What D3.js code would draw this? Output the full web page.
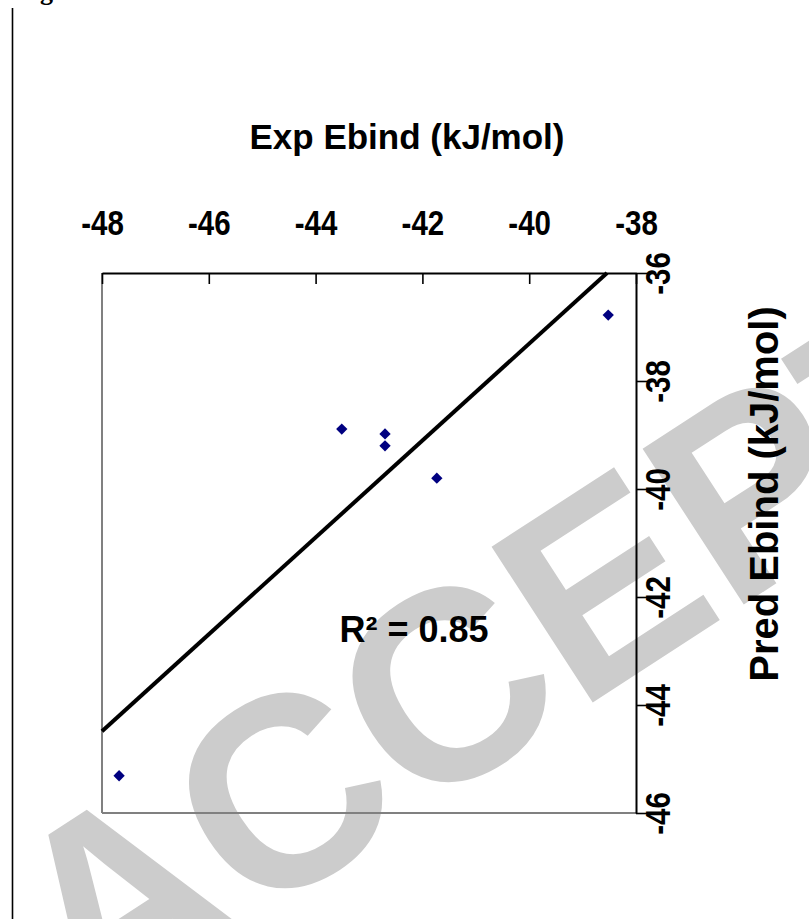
<!DOCTYPE html>
<html>
<head>
<meta charset="utf-8">
<script src="https://cdn.jsdelivr.net/npm/d3@7"></script>
<style>
  html, body { margin: 0; padding: 0; background: #ffffff; }
  svg { display: block; }
</style>
</head>
<body>
<div id="chart"></div>
<script>
// ---- data ----
const expEbind  = [-38.52, -43.51, -42.70, -42.70, -41.73, -47.68];
const predEbind = [-36.78, -38.89, -38.98, -39.20, -39.80, -45.31];
const xTicks = [-48, -46, -44, -42, -40, -38];
const yTicks = [-36, -38, -40, -42, -44, -46];
const xTitle = "Exp Ebind (kJ/mol)";
const yTitle = "Pred Ebind (kJ/mol)";
const r2Label = "R\u00B2 = 0.85";
const watermark = "ACCEPTED MANUSCRIPT";
const figLabel = "Figure 8";

(function () {
const W = 809, H = 919;
const svg = d3.select("#chart").append("svg").attr("width", W).attr("height", H);

// watermark behind everything
svg.append("text")
  .attr("transform", "translate(87,1031) rotate(-33)")
  .attr("font-family", "Liberation Sans, Arial, sans-serif")
  .attr("font-weight", "bold")
  .attr("font-size", 270)
  .attr("fill", "#cccccc")
  .text(watermark);

// page margin line and cropped figure caption
svg.append("line").attr("x1", 12.5).attr("x2", 12.5).attr("y1", 8).attr("y2", H)
  .attr("stroke", "#000").attr("stroke-width", 1.6);
svg.append("text").attr("x", 17).attr("y", 0)
  .attr("font-family", "Liberation Serif, Times New Roman, serif")
  .attr("font-weight", "bold").attr("font-size", 26).attr("fill", "#000")
  .text(figLabel);

// scales
const pL = 102, pR = 636, pT = 273, pB = 813;
const x = d3.scaleLinear().domain([-48, -38]).range([pL, pR]);
const y = d3.scaleLinear().domain([-46, -36]).range([pB, pT]);

// plot frame (left / bottom gray)
svg.append("line").attr("x1", pL).attr("x2", pL).attr("y1", pT).attr("y2", pB)
  .attr("stroke", "#808080").attr("stroke-width", 2);
svg.append("line").attr("x1", pL).attr("x2", pR).attr("y1", pB).attr("y2", pB)
  .attr("stroke", "#808080").attr("stroke-width", 2);

const fmt = d => d3.format("d")(d).replace("\u2212", "-");

// top axis (ticks inward)
const gx = svg.append("g").attr("transform", `translate(0,${pT})`)
  .call(d3.axisTop(x).tickValues(xTicks).tickSize(-11).tickSizeOuter(0).tickPadding(38)
        .tickFormat(fmt));
gx.select(".domain").attr("stroke", "#000").attr("stroke-width", 2);
gx.selectAll(".tick line").attr("stroke", "#000").attr("stroke-width", 1.6);
gx.selectAll(".tick text")
  .attr("font-family", "Liberation Sans, Arial, sans-serif")
  .attr("font-weight", "bold").attr("font-size", 36).attr("fill", "#000")
  .attr("transform", "scale(0.82,1)");

// right axis (ticks outward, rotated labels)
const gy = svg.append("g").attr("transform", `translate(${pR},0)`)
  .call(d3.axisRight(y).tickValues(yTicks).tickSize(12).tickSizeOuter(0)
        .tickFormat(fmt));
gy.select(".domain").attr("stroke", "#000").attr("stroke-width", 2);
gy.selectAll(".tick line").attr("stroke", "#000").attr("stroke-width", 1.6);
gy.selectAll(".tick text")
  .attr("x", 0).attr("y", 0).attr("dy", "0.35em")
  .attr("text-anchor", "middle")
  .attr("font-family", "Liberation Sans, Arial, sans-serif")
  .attr("font-weight", "bold").attr("font-size", 36).attr("fill", "#000")
  .attr("transform", "translate(21,0) rotate(-90) scale(0.82,1)");

// titles
svg.append("text").attr("x", 407).attr("y", 149).attr("text-anchor", "middle")
  .attr("font-family", "Liberation Sans, Arial, sans-serif")
  .attr("font-weight", "bold").attr("font-size", 35).attr("fill", "#000")
  .text(xTitle);
svg.append("text")
  .attr("transform", "translate(764,494) rotate(-90)")
  .attr("text-anchor", "middle").attr("dy", "0.35em")
  .attr("font-family", "Liberation Sans, Arial, sans-serif")
  .attr("font-weight", "bold").attr("font-size", 40).attr("fill", "#000")
  .text(yTitle);

// linear trendline (least squares), clipped to plot area
const n = expEbind.length;
const mx = d3.mean(expEbind), my = d3.mean(predEbind);
let sxy = 0, sxx = 0;
for (let i = 0; i < n; i++) {
  sxy += (expEbind[i] - mx) * (predEbind[i] - my);
  sxx += (expEbind[i] - mx) ** 2;
}
const slope = sxy / sxx, icpt = my - slope * mx;
const xa = x.domain()[0];
const xb = Math.min(x.domain()[1], (y.domain()[1] - icpt) / slope);
svg.append("line")
  .attr("x1", x(xa)).attr("y1", y(slope * xa + icpt))
  .attr("x2", x(xb)).attr("y2", y(slope * xb + icpt))
  .attr("stroke", "#000").attr("stroke-width", 4);

// points
const sym = d3.symbol().type(d3.symbolSquare).size(64);
svg.append("g").selectAll("path").data(d3.range(n)).join("path")
  .attr("d", sym)
  .attr("transform", i => `translate(${x(expEbind[i])},${y(predEbind[i])}) rotate(45)`)
  .attr("fill", "#000080");

// R² label
svg.append("text").attr("x", 414).attr("y", 642).attr("text-anchor", "middle")
  .attr("font-family", "Liberation Sans, Arial, sans-serif")
  .attr("font-weight", "bold").attr("font-size", 36).attr("fill", "#000")
  .text(r2Label);
})();
</script>
</body>
</html>
